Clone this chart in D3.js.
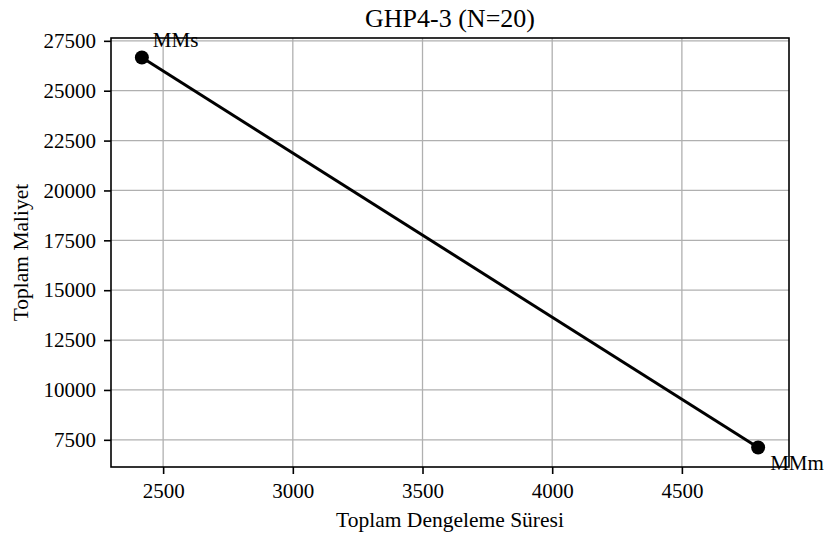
<!DOCTYPE html>
<html>
<head>
<meta charset="utf-8">
<script src="https://cdn.jsdelivr.net/npm/d3@7"></script>
<style>
  body { margin: 0; background: #fff; }
  svg text { font-family: "Liberation Serif", "DejaVu Serif", serif; fill: #000; }
</style>
</head>
<body>
<script>
const methods = ['MMs', 'MMm'];
const totalTime = [2418, 4794];
const totalCost = [26665, 7115];
const xTicks = [2500, 3000, 3500, 4000, 4500];
const yTicks = [7500, 10000, 12500, 15000, 17500, 20000, 22500, 25000, 27500];

var width = 826,
    height = 536,
    plotLeft = 111,
    plotRight = 789,
    plotTop = 38,
    plotBottom = 467;

var xScale = d3.scaleLinear().domain([2299, 4913]).range([plotLeft, plotRight]);
var yScale = d3.scaleLinear().domain([6138, 27642]).range([plotBottom, plotTop]);

var svg = d3.select('body').append('svg')
    .attr('width', width)
    .attr('height', height);

// grid
svg.append('g').selectAll('line').data(xTicks).enter().append('line')
    .attr('x1', d => xScale(d)).attr('x2', d => xScale(d))
    .attr('y1', plotTop).attr('y2', plotBottom)
    .attr('stroke', '#b0b0b0').attr('stroke-width', 1.3);
svg.append('g').selectAll('line').data(yTicks).enter().append('line')
    .attr('x1', plotLeft).attr('x2', plotRight)
    .attr('y1', d => yScale(d)).attr('y2', d => yScale(d))
    .attr('stroke', '#b0b0b0').attr('stroke-width', 1.3);

var xAxis = d3.axisBottom(xScale).tickValues(xTicks).tickSize(7).tickPadding(9).tickFormat(d3.format('d'));
var yAxis = d3.axisLeft(yScale).tickValues(yTicks).tickSize(7).tickPadding(8).tickFormat(d3.format('d'));

var xg = svg.append('g').attr('transform', `translate(0, ${plotBottom})`).call(xAxis);
var yg = svg.append('g').attr('transform', `translate(${plotLeft}, 0)`).call(yAxis);
[xg, yg].forEach(g => {
    g.select('.domain').remove();
    g.selectAll('line').attr('stroke', '#000').attr('stroke-width', 1.6);
    g.selectAll('text').attr('font-size', 21).attr('font-family', '"Liberation Serif", serif');
});

// frame
svg.append('rect')
    .attr('x', plotLeft).attr('y', plotTop)
    .attr('width', plotRight - plotLeft).attr('height', plotBottom - plotTop)
    .attr('fill', 'none').attr('stroke', '#000').attr('stroke-width', 1.6);

var pts = methods.map((m, i) => ({ name: m, x: totalTime[i], y: totalCost[i] }));

svg.append('path')
    .datum(pts)
    .attr('d', d3.line().x(d => xScale(d.x)).y(d => yScale(d.y)))
    .attr('fill', 'none').attr('stroke', '#000').attr('stroke-width', 3);

svg.selectAll('circle.pt').data(pts).enter().append('circle')
    .attr('class', 'pt')
    .attr('cx', d => xScale(d.x)).attr('cy', d => yScale(d.y))
    .attr('r', 7).attr('fill', '#000');

// annotations
var offsets = { MMs: [11, -10], MMm: [12, 22] };
svg.selectAll('text.ann').data(pts).enter().append('text')
    .attr('class', 'ann')
    .attr('x', d => xScale(d.x) + offsets[d.name][0])
    .attr('y', d => yScale(d.y) + offsets[d.name][1])
    .attr('font-size', 21)
    .text(d => d.name);

svg.append('text')
    .attr('x', (plotLeft + plotRight) / 2).attr('y', 27)
    .attr('text-anchor', 'middle').attr('font-size', 26)
    .text('GHP4-3 (N=20)');

svg.append('text')
    .attr('x', (plotLeft + plotRight) / 2).attr('y', 527)
    .attr('text-anchor', 'middle').attr('font-size', 21.5)
    .text('Toplam Dengeleme Süresi');

svg.append('text')
    .attr('transform', `translate(28, ${(plotTop + plotBottom) / 2}) rotate(-90)`)
    .attr('text-anchor', 'middle').attr('font-size', 21.5)
    .text('Toplam Maliyet');
</script>
</body>
</html>
